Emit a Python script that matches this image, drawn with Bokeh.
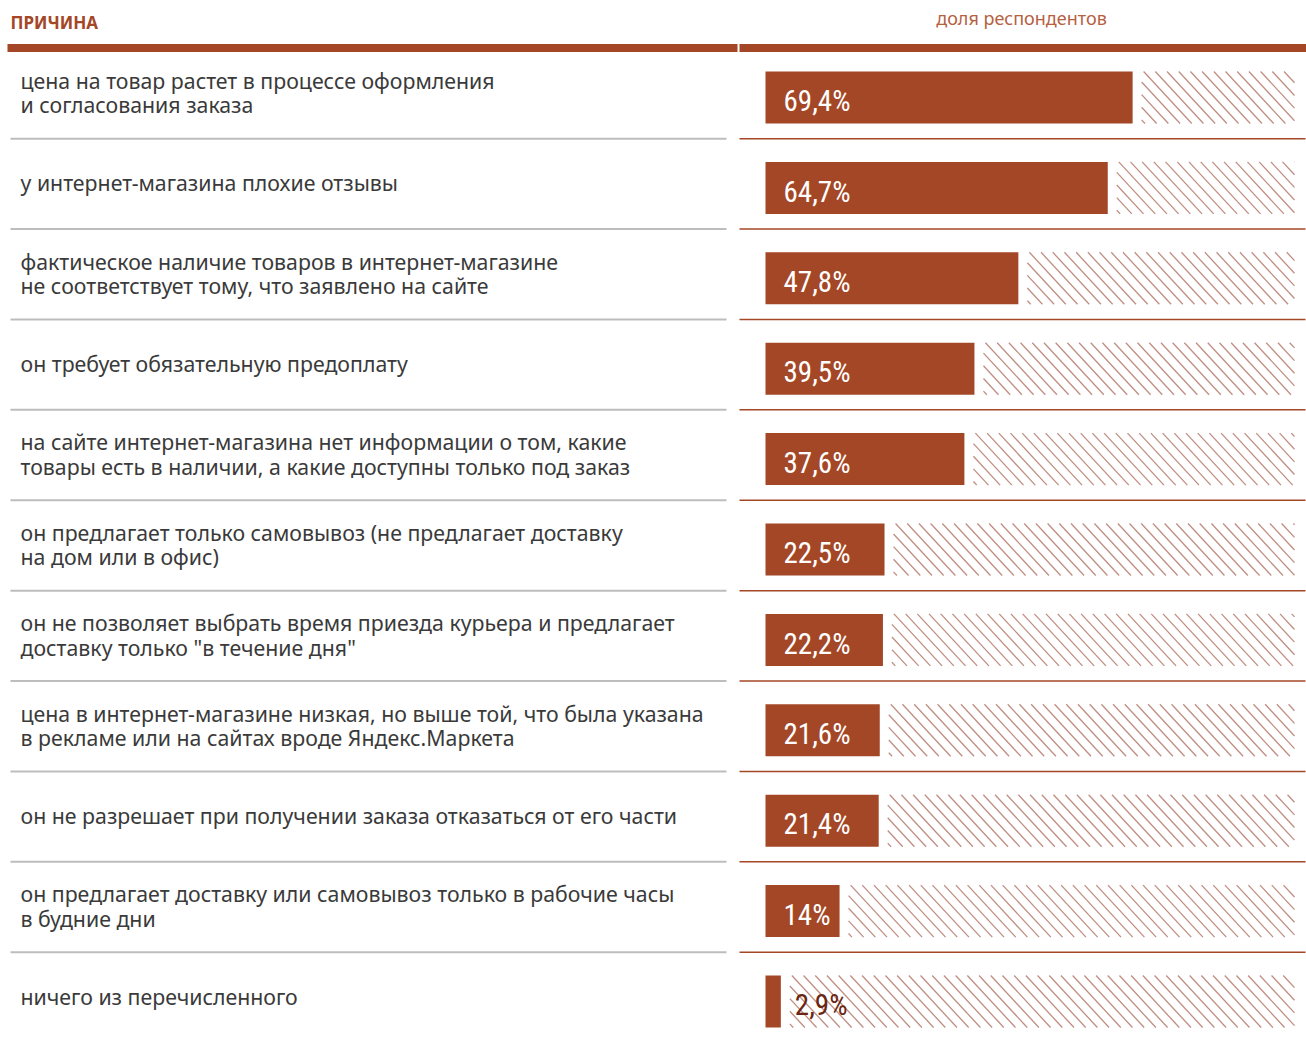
from bokeh.plotting import figure
from bokeh.models import Range1d
from bokeh.core.properties import value
from bokeh.embed import file_html
from bokeh.resources import INLINE

reasons = [
    "цена на товар растет в процессе оформления\nи согласования заказа",
    "у интернет-магазина плохие отзывы",
    "фактическое наличие товаров в интернет-магазине\nне соответствует тому, что заявлено на сайте",
    "он требует обязательную предоплату",
    "на сайте интернет-магазина нет информации о том, какие\nтовары есть в наличии, а какие доступны только под заказ",
    "он предлагает только самовывоз (не предлагает доставку\nна дом или в офис)",
    "он не позволяет выбрать время приезда курьера и предлагает\nдоставку только \"в течение дня\"",
    "цена в интернет-магазине низкая, но выше той, что была указана\nв рекламе или на сайтах вроде Яндекс.Маркета",
    "он не разрешает при получении заказа отказаться от его части",
    "он предлагает доставку или самовывоз только в рабочие часы\nв будние дни",
    "ничего из перечисленного",
]
shares = [69.4, 64.7, 47.8, 39.5, 37.6, 22.5, 22.2, 21.6, 21.4, 14.0, 2.9]
share_labels = ["69,4%", "64,7%", "47,8%", "39,5%", "37,6%", "22,5%", "22,2%",
                "21,6%", "21,4%", "14%", "2,9%"]
header_left = "ПРИЧИНА"
header_right = "доля респондентов"

RUST = "#A44727"
W, H = 1306, 1039
PX_PER_PCT = 5.29
ROW_PX = 90.4
X0_SCREEN = 765   # pixel x of 0%
Y0_SCREEN = 97    # pixel y of first row centre
BAR_PX = 52
GAP_PX = 9
HATCH_STEP = 11.7   # horizontal distance between hatch lines, px
HATCH_SLOPE = 1.08  # pixel dy/dx of hatch lines

def dx(px):
    return (px - X0_SCREEN) / PX_PER_PCT

def dy(py):
    return (py - Y0_SCREEN) / ROW_PX

def px_x(d):
    return X0_SCREEN + d * PX_PER_PCT

def px_y(d):
    return Y0_SCREEN + d * ROW_PX

p = figure(width=W, height=H, output_backend="svg", toolbar_location=None,
           x_range=Range1d(dx(0), dx(W)), y_range=Range1d(dy(H), dy(0)),
           min_border=0, outline_line_color=None)
p.axis.visible = False
p.grid.visible = False
p.background_fill_color = "white"
p.border_fill_color = "white"

n = len(shares)
rows = list(range(n))
gap = GAP_PX / PX_PER_PCT
bar_h = BAR_PX / ROW_PX

# hatch texture (the remainder up to 100 %), computed from each row's share
hx0, hx1, hy0, hy1 = [], [], [], []
for r, s in zip(rows, shares):
    left = px_x(s + gap)
    right = px_x(100)
    top = px_y(r) - BAR_PX / 2
    bot = px_y(r) + BAR_PX / 2
    c = left - (bot - top) / HATCH_SLOPE + 2
    c = left + 2 - HATCH_STEP * int((bot - top) / HATCH_SLOPE / HATCH_STEP + 1)
    while c < right:
        ya = max(top, top + (left - c) * HATCH_SLOPE)
        yb = min(bot, top + (right - c) * HATCH_SLOPE)
        if yb > ya:
            xa = c + (ya - top) / HATCH_SLOPE
            xb = c + (yb - top) / HATCH_SLOPE
            hx0.append(dx(xa)); hx1.append(dx(xb))
            hy0.append(dy(ya)); hy1.append(dy(yb))
        c += HATCH_STEP
p.segment(x0=hx0, y0=hy0, x1=hx1, y1=hy1, line_color="#c08e83", line_width=1.3)

# bars
p.hbar(y=rows, left=0, right=shares, height=bar_h, fill_color=RUST, line_color=None)

# value labels
inside = [s >= 10 for s in shares]
lx = [0 if ins else s for s, ins in zip(shares, inside)]
loff = [18 if ins else 14 for ins in inside]
lcol = ["white" if ins else "#6a2612" for ins in inside]
p.text(x=lx, y=[r + 0.04 for r in rows], text=share_labels, x_offset=loff,
       text_color=lcol, text_font=value("Roboto Condensed, Roboto"), text_font_size="29px",
       text_baseline="middle", text_align="left")

# reason labels
p.text(x=[dx(20)] * n, y=[r - 0.055 for r in rows], text=reasons,
       text_color="#3a3a3a", text_font=value("Noto Sans"), text_font_size="21.3px",
       text_baseline="middle", text_align="left", text_line_height=0.84)

# separators
seps = [r + 0.455 for r in rows[:-1]]
p.segment(x0=dx(10), x1=dx(726), y0=seps, y1=seps, line_color="#bdbdbd", line_width=2)
p.segment(x0=dx(739), x1=dx(1305), y0=seps, y1=seps, line_color=RUST, line_width=1.5)

# header bar
p.quad(left=[dx(7), dx(739)], right=[dx(737), dx(1306)], top=dy(43.5), bottom=dy(51.5),
       fill_color=RUST, line_color=None)

# header texts
p.text(x=[dx(10)], y=[dy(22)], text=[header_left], text_color=RUST,
       text_font=value("Noto Sans"), text_font_size="17px", text_font_style="bold",
       text_baseline="middle", text_align="left")
p.text(x=[dx(1021)], y=[dy(17)], text=[header_right], text_color="#b5603f",
       text_font=value("Noto Sans"), text_font_size="18px",
       text_baseline="middle", text_align="center")

open("out.html", "w").write(file_html(p, INLINE))
